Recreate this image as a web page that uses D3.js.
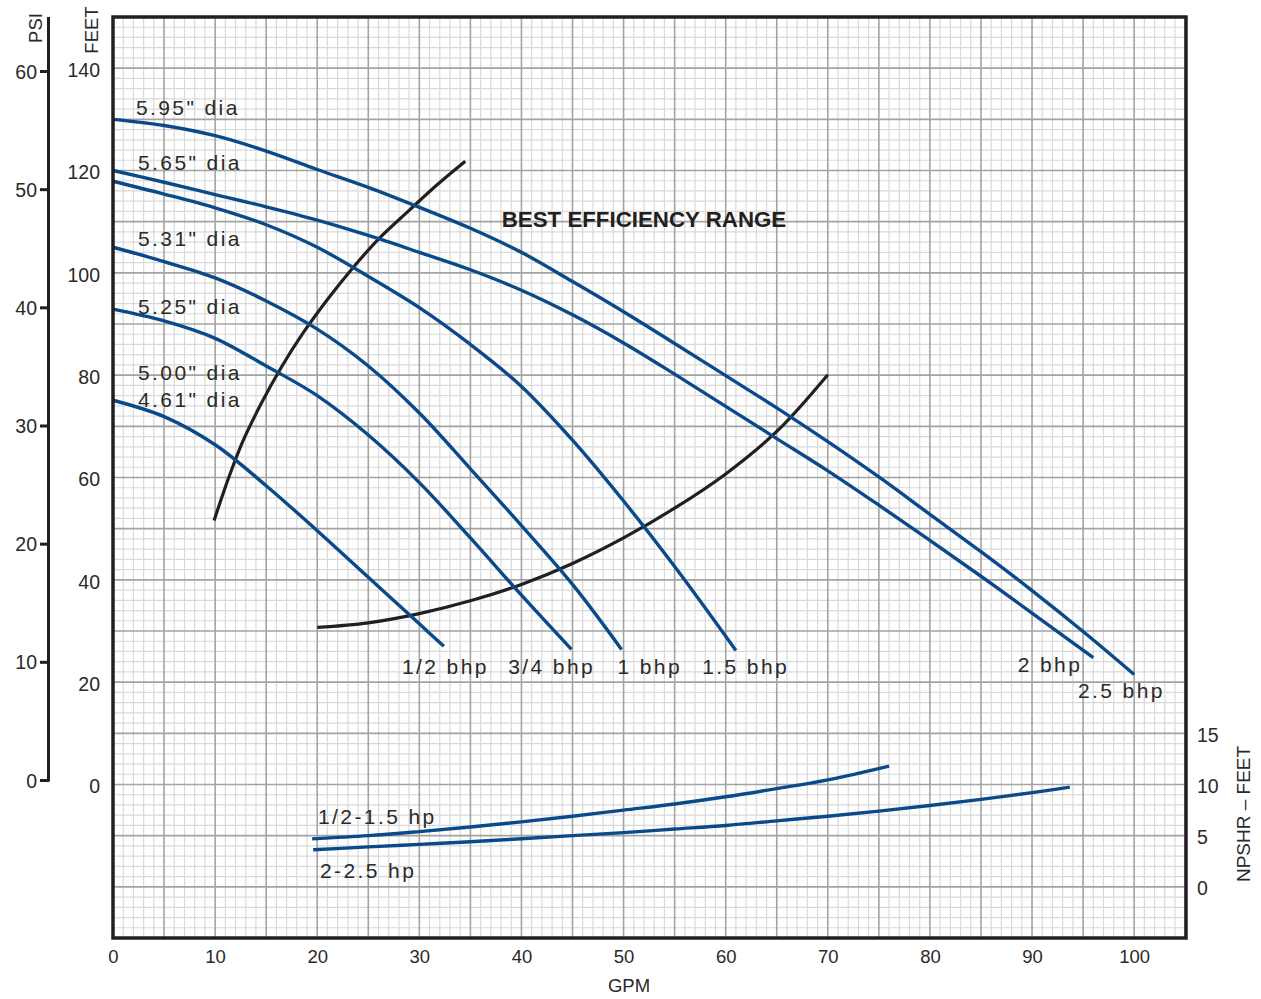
<!DOCTYPE html>
<html>
<head>
<meta charset="utf-8">
<script src="https://cdn.jsdelivr.net/npm/d3@7"></script>
<style>
  html, body { margin: 0; padding: 0; background: #fff; }
  svg { display: block; }
  text { font-family: "Liberation Sans", Arial, Helvetica, sans-serif; fill: #2a2a2a; }
</style>
</head>
<body>
<svg id="chart" width="1261" height="999"></svg>
<script>
// ---------------- DATA ----------------
const gpmTicks = [0, 10, 20, 30, 40, 50, 60, 70, 80, 90, 100];
const feetTicks = [0, 20, 40, 60, 80, 100, 120, 140];
const psiTicks = [0, 10, 20, 30, 40, 50, 60];
const npshTicks = [0, 5, 10, 15];

// Head curves [GPM, feet]
const head25bhp = [[0,130],[5,128.8],[10,126.8],[15,123.8],[20,120.2],[25,116.7],[30,112.8],[35,108.7],[40,104],[45,98.3],[50,92.4],[55,86.2],[60,79.9],[65,73.6],[70,67],[75,60.1],[80,52.8],[85,45.5],[90,37.9],[95,29.9],[100,21.5]];
const head2bhp  = [[0,120],[5,117.7],[10,115.3],[15,112.9],[20,110.3],[25,107.3],[30,104],[35,100.6],[40,96.6],[45,91.8],[50,86.3],[55,80.2],[60,73.9],[65,67.6],[70,61.3],[75,54.6],[80,47.7],[85,40.7],[90,33.5],[96,24.8]];
const head15bhp = [[0,117.9],[5,115.4],[10,112.7],[15,109.4],[20,105],[25,99.3],[30,93.2],[35,86],[40,77.8],[45,67.3],[50,55.4],[55,42.6],[61,26.2]];
const head1bhp  = [[0,105],[5,102.2],[10,99],[15,94.5],[20,89],[25,81.8],[30,72.6],[35,61.7],[40,50.6],[45,39.1],[49.8,26.4]];
const head34bhp = [[0,92.9],[5,90.6],[10,87.2],[15,81.8],[20,76],[25,68.3],[30,59],[35,48.2],[40,37],[44.9,26.4]];
const head12bhp = [[0,75.1],[5,71.9],[10,66.4],[15,58.4],[20,49.6],[25,40.5],[30,31.4],[32.4,27]];
const headCurves = [head25bhp, head2bhp, head15bhp, head1bhp, head34bhp, head12bhp];

// Best efficiency range boundaries [GPM, feet]
const bepLeft  = [[9.9,51.6],[11.3,59.8],[12.7,67],[14.5,74.4],[16.5,81.6],[18.6,88.2],[21,94.8],[23.5,101],[26,106.6],[29,112.2],[31.8,117.3],[34.5,121.8]];
const bepRight = [[20,30.7],[25,31.6],[30,33.4],[35,35.9],[40,39.1],[45,43.2],[50,48.2],[55,54],[60,60.7],[65,69],[70,80.1]];

// NPSHR curves [GPM, NPSHR feet]
const npshSmall = [[19.5,4.69],[25,5],[30,5.4],[35,5.85],[40,6.35],[45,6.9],[50,7.5],[55,8.1],[60,8.8],[65,9.6],[70,10.45],[76,11.8]];
const npshLarge = [[19.6,3.62],[25,3.9],[30,4.15],[35,4.4],[40,4.7],[45,5.0],[50,5.3],[55,5.65],[60,6.0],[65,6.45],[70,6.9],[75,7.4],[80,7.95],[85,8.55],[90,9.2],[93.7,9.75]];

// Text labels
const diaLabels = ['5.95" dia', '5.65" dia', '5.31" dia', '5.25" dia', '5.00" dia', '4.61" dia'];
const bhpLabels = ['2.5 bhp', '2 bhp', '1.5 bhp', '1 bhp', '3/4 bhp', '1/2 bhp'];
const npshLabels = ['1/2-1.5 hp', '2-2.5 hp'];

// ---------------- LAYOUT ----------------
const svg = d3.select('#chart');
const W = 1261, H = 999;
const plot = { left: 113, right: 1186, top: 17, bottom: 938 };

const x = d3.scaleLinear().domain([0, 105]).range([113, 1185.2]);
const y = d3.scaleLinear().domain([-30, 150]).range([938, 17]);
const yPsi = d3.scaleLinear().domain([0, 60]).range([780, 71]);
const yNpsh = d3.scaleLinear().domain([0, 15]).range([y(-20), y(10)]);

svg.append('rect').attr('width', W).attr('height', H).attr('fill', '#fff');

// Grid
const grid = svg.append('g');
grid.selectAll('line.vmin').data(d3.range(0, 106, 1).filter(d => d % 5 !== 0)).join('line')
  .attr('x1', d => x(d)).attr('x2', d => x(d)).attr('y1', plot.top).attr('y2', plot.bottom)
  .attr('stroke', '#d9d9d9').attr('stroke-width', 1.2);
grid.selectAll('line.hmin').data(d3.range(-30, 151, 2).filter(d => d % 10 !== 0)).join('line')
  .attr('y1', d => y(d)).attr('y2', d => y(d)).attr('x1', plot.left).attr('x2', plot.right)
  .attr('stroke', '#d9d9d9').attr('stroke-width', 1.2);
grid.selectAll('line.vmaj').data(d3.range(5, 106, 5)).join('line')
  .attr('x1', d => x(d)).attr('x2', d => x(d)).attr('y1', plot.top).attr('y2', plot.bottom)
  .attr('stroke', '#a3a3a3').attr('stroke-width', 1.6);
grid.selectAll('line.hmaj').data(d3.range(-20, 151, 10)).join('line')
  .attr('y1', d => y(d)).attr('y2', d => y(d)).attr('x1', plot.left).attr('x2', plot.right)
  .attr('stroke', '#a3a3a3').attr('stroke-width', 1.6);

// Curves
const lineFt = d3.line().x(d => x(d[0])).y(d => y(d[1])).curve(d3.curveCatmullRom.alpha(0.5));
const lineNpsh = d3.line().x(d => x(d[0])).y(d => yNpsh(d[1])).curve(d3.curveCatmullRom.alpha(0.5));
const blue = '#0b4a8a';

svg.append('g').selectAll('path').data([bepLeft, bepRight]).join('path')
  .attr('d', lineFt).attr('fill', 'none').attr('stroke', '#231f20').attr('stroke-width', 3.2);

svg.append('g').selectAll('path').data(headCurves).join('path')
  .attr('d', lineFt).attr('fill', 'none').attr('stroke', blue).attr('stroke-width', 3.4);

svg.append('g').selectAll('path').data([npshSmall, npshLarge]).join('path')
  .attr('d', lineNpsh).attr('fill', 'none').attr('stroke', blue).attr('stroke-width', 3.4);

// Labels
const lab = { 'font-size': '21px', 'letter-spacing': '2.4px' };
const diaPos = [[2.25, 130.8], [2.45, 120.1], [2.45, 105.2], [2.45, 91.9], [2.45, 79.0], [2.45, 73.7]];
svg.append('g').selectAll('text').data(diaLabels).join('text')
  .attr('x', (d, i) => x(diaPos[i][0])).attr('y', (d, i) => y(diaPos[i][1]))
  .style('font-size', lab['font-size']).style('letter-spacing', lab['letter-spacing'])
  .text(d => d);

const bhpPos = [[94.5, 16.9], [88.6, 21.9], [57.7, 21.5], [49.4, 21.5], [38.7, 21.5], [28.3, 21.5]];
svg.append('g').selectAll('text').data(bhpLabels).join('text')
  .attr('x', (d, i) => x(bhpPos[i][0])).attr('y', (d, i) => y(bhpPos[i][1]))
  .style('font-size', lab['font-size']).style('letter-spacing', lab['letter-spacing'])
  .text(d => d);

const npshPos = [[20.08, 6.13], [20.27, 0.88]];
svg.append('g').selectAll('text').data(npshLabels).join('text')
  .attr('x', (d, i) => x(npshPos[i][0])).attr('y', (d, i) => yNpsh(npshPos[i][1]))
  .style('font-size', lab['font-size']).style('letter-spacing', lab['letter-spacing'])
  .text(d => d);

svg.append('text').attr('x', x(52.0)).attr('y', y(108.9))
  .attr('text-anchor', 'middle').style('font-size', '22.3px').style('font-weight', 'bold')
  .style('fill', '#231f20').text('BEST EFFICIENCY RANGE');

// Plot border
svg.append('rect').attr('x', plot.left).attr('y', plot.top)
  .attr('width', plot.right - plot.left).attr('height', plot.bottom - plot.top)
  .attr('fill', 'none').attr('stroke', '#231f20').attr('stroke-width', 3.5);

// Axes
function styleAxis(g, size) {
  g.select('.domain').remove();
  g.selectAll('text').style('font-size', size).style('font-family', '"Liberation Sans", Arial, sans-serif').attr('fill', '#2a2a2a');
}

svg.append('g').attr('transform', `translate(${plot.left},0)`)
  .call(d3.axisLeft(y).tickValues(feetTicks).tickSize(0).tickPadding(13))
  .call(g => styleAxis(g, '19.5px'))
  .call(g => g.selectAll('text').attr('dy', '0.42em'));

const psiG = svg.append('g').attr('transform', 'translate(49,0)')
  .call(d3.axisLeft(yPsi).tickValues(psiTicks).tickSize(9).tickPadding(3))
  .call(g => styleAxis(g, '19.5px'))
  .call(g => g.selectAll('text').attr('dy', '0.36em'));
psiG.selectAll('.tick line').attr('stroke', '#231f20').attr('stroke-width', 3);
svg.append('line').attr('x1', 48.5).attr('x2', 48.5).attr('y1', plot.top).attr('y2', yPsi(0) + 1.5)
  .attr('stroke', '#231f20').attr('stroke-width', 3);

svg.append('g').attr('transform', `translate(0,${plot.bottom})`)
  .call(d3.axisBottom(x).tickValues(gpmTicks).tickSize(0).tickPadding(12))
  .call(g => styleAxis(g, '18.5px'));

svg.append('g').attr('transform', `translate(${plot.right},0)`)
  .call(d3.axisRight(yNpsh).tickValues(npshTicks).tickSize(0).tickPadding(11))
  .call(g => styleAxis(g, '19.5px'))
  .call(g => g.selectAll('text').attr('dy', '0.4em'));

// Axis titles
svg.append('text').attr('x', 629).attr('y', 992).attr('text-anchor', 'middle')
  .style('font-size', '18.5px').text('GPM');
svg.append('text').attr('transform', 'translate(42,28) rotate(-90)').attr('text-anchor', 'middle')
  .style('font-size', '18.5px').text('PSI');
svg.append('text').attr('transform', 'translate(98,30) rotate(-90)').attr('text-anchor', 'middle')
  .style('font-size', '18.5px').text('FEET');
svg.append('text').attr('transform', 'translate(1250,814) rotate(-90)').attr('text-anchor', 'middle')
  .style('font-size', '19px').text('NPSHR – FEET');
</script>
</body>
</html>
